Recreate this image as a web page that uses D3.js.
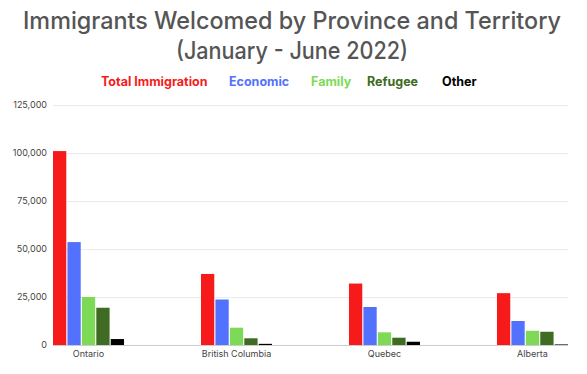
<!doctype html>
<html>
<head>
<style>
  body { margin: 0; background: #fff; }
  svg text { font-family: "Inter", "Open Sans", sans-serif; }
</style>
</head>
<body>
<div id="vis"></div>
<script src="https://d3js.org/d3.v7.min.js"></script>
<script>
var provinces = ['Ontario', 'British Columbia', 'Quebec', 'Alberta'];
var seriesNames = ['Total Immigration', 'Economic', 'Family', 'Refugee', 'Other'];
var totalImmigration = [101000, 37000, 32000, 27000];
var economic = [53600, 23700, 19800, 12500];
var family = [25000, 9000, 6600, 7400];
var refugee = [19400, 3500, 3800, 6900];
var other = [3100, 600, 1700, 300];
var yTicks = [0, 25000, 50000, 75000, 100000, 125000];
var colors = ['#f71a1a', '#5271ff', '#7ed957', '#3f6b23', '#000000'];

var series = [totalImmigration, economic, family, refugee, other];

var svg = d3.select('#vis').append('svg').attr('width', 587).attr('height', 374);

// title
svg.append('text').attr('x', 292).attr('y', 29).attr('text-anchor', 'middle')
  .attr('textLength', 538).attr('lengthAdjust', 'spacingAndGlyphs')
  .style('font-size', '24px').style('font-weight', 450).style('fill', '#555')
  .text('Immigrants Welcomed by Province and Territory');
svg.append('text').attr('x', 292).attr('y', 59).attr('text-anchor', 'middle')
  .attr('textLength', 232).attr('lengthAdjust', 'spacingAndGlyphs')
  .style('font-size', '24px').style('font-weight', 450).style('fill', '#555').text('(January - June 2022)');

// legend
var legendX = [101, 229, 311, 367, 442];
seriesNames.forEach(function(s, i){
  svg.append('text').attr('x', legendX[i]).attr('y', 86)
    .style('font-size', '12.5px').style('font-weight', 'bold').style('fill', colors[i]).text(s);
});

var y = d3.scaleLinear().domain([0, 125000]).range([345, 105]);
var x = d3.scaleBand().domain(provinces).range([53, 568]).paddingInner(0.52).paddingOuter(0);
var xi = d3.scaleBand().domain(d3.range(5)).range([0, x.bandwidth()]).paddingInner(0.08);

// grid
svg.append('g').selectAll('line').data(yTicks).join('line')
  .attr('x1', 53).attr('x2', 568)
  .attr('y1', function(d){ return y(d) + 0.5; }).attr('y2', function(d){ return y(d) + 0.5; })
  .style('stroke', function(d){ return d === 0 ? '#ccc' : '#ebebeb'; });

var yAxis = d3.axisLeft(y).tickValues(yTicks).tickSize(0).tickPadding(6).tickFormat(d3.format(','));
svg.append('g').attr('transform', 'translate(53,0)').call(yAxis)
  .call(function(g){ g.select('.domain').remove(); })
  .selectAll('text').style('font-size', '9px').style('fill', '#444').style('font-family', 'Inter, sans-serif');

var xAxis = d3.axisBottom(x).tickSize(0).tickPadding(6);
svg.append('g').attr('transform', 'translate(0,345)').call(xAxis)
  .call(function(g){ g.select('.domain').remove(); })
  .selectAll('text').style('font-size', '9px').style('fill', '#444').style('font-family', 'Inter, sans-serif');

// bars
provinces.forEach(function(p, pi){
  series.forEach(function(s, si){
    svg.append('rect')
      .attr('x', x(p) + xi(si))
      .attr('y', y(s[pi]))
      .attr('width', xi.bandwidth())
      .attr('height', y(0) - y(s[pi]))
      .style('fill', colors[si]);
  });
});
</script>
</body>
</html>
